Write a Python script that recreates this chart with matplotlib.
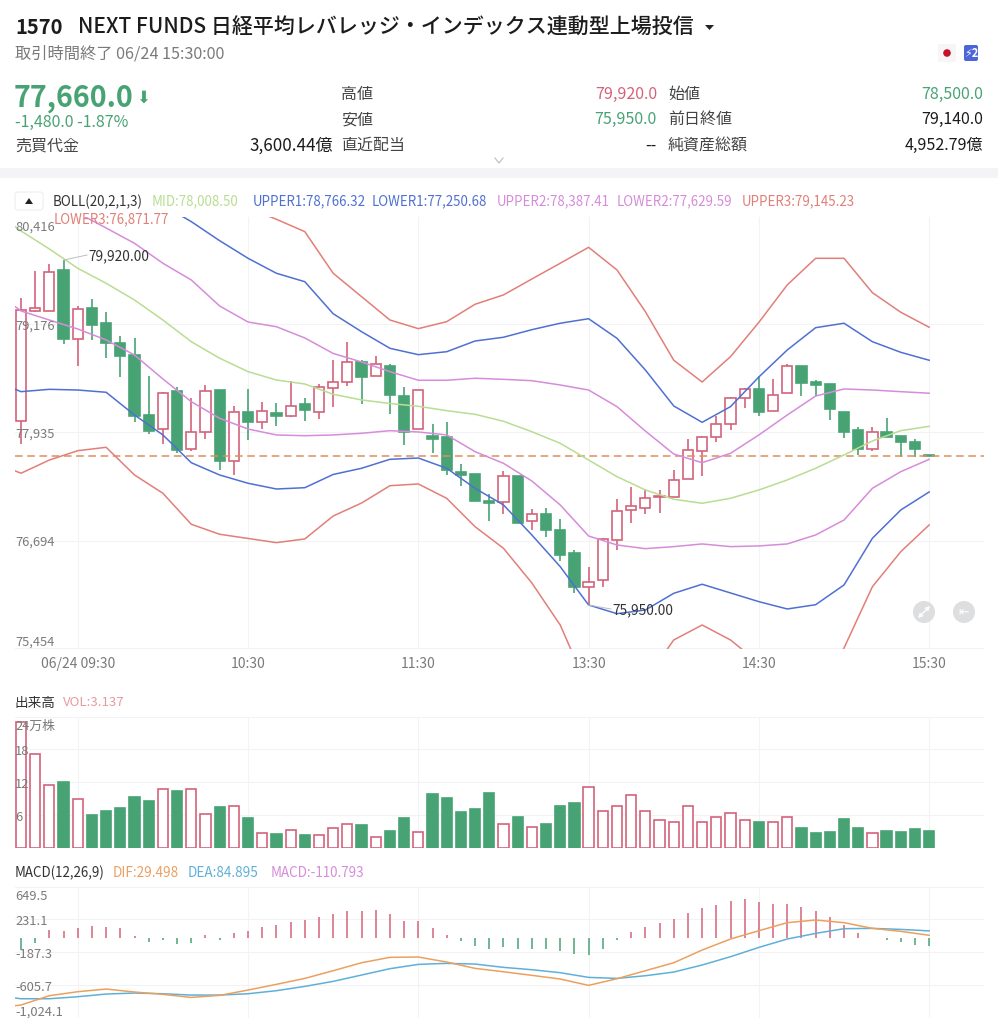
"""Candlestick panel with Bollinger bands, volume and MACD, plus the quote header."""
import numpy as np
import matplotlib; matplotlib.use("Agg")
import matplotlib.pyplot as plt
from matplotlib.patches import Rectangle, Circle, FancyBboxPatch, Polygon

plt.rcParams["font.family"] = ["Noto Sans CJK JP", "DejaVu Sans"]

W, H = 998, 1024
nan = float("nan")

# --- candles ---
opens = [78070,79330,79330,79800,79010,79360,79190,78960,78830,78140,77970,78410,77750,77940,78420,77610,78170,78060,78160,78130,78260,78170,78450,78520,78740,78580,78700,78350,77970,77890,77880,77480,77460,77150,77140,77440,76920,77000,76820,76550,76160,76240,76700,77040,77070,77190,77190,77400,77720,77880,78030,78330,78440,78180,78390,78700,78520,78490,78170,77960,77750,77940,77900,77830,77670]
closes = [79340,79360,79780,79010,79350,79170,78960,78810,78130,77950,78390,77730,77940,78410,77610,78170,78050,78180,78130,78240,78190,78460,78520,78740,78570,78720,78370,77940,78420,77860,77500,77450,77150,77120,77430,76900,77000,76820,76530,76160,76220,76710,77030,77090,77180,77200,77390,77730,77880,78030,78330,78440,78170,78370,78700,78500,78480,78200,77940,77740,77940,77880,77830,77750,77660]
highs = [79480,79790,79870,79920,79390,79470,79320,79040,79020,78580,78400,78460,78330,78480,78420,78240,78430,78290,78270,78530,78330,78490,78770,78970,78770,78810,78720,78460,78420,78030,78050,77570,77460,77230,77490,77440,77060,77070,76940,76590,76390,76720,77170,77310,77290,77270,77510,77860,77900,78120,78340,78450,78580,78550,78720,78700,78540,78490,78170,78000,78000,78100,77900,77860,77670]
lows = [77800,79320,79330,78950,78700,79000,78790,78570,78060,77920,77800,77700,77720,77860,77510,77450,77850,77980,78010,78110,78070,78090,78230,78470,78260,78580,78150,77790,77970,77700,77450,77320,77150,76920,77000,76900,76810,76730,76460,76090,75950,76160,76590,76890,77000,77010,77190,77400,77440,77830,77960,78220,78130,78180,78390,78350,78350,78080,77870,77680,77720,77880,77650,77650,77660]
last_price = 77660

# --- bollinger lines, read at every second candle (nan = off the top of the panel) ---
band_idx = [-0.4, 0] + list(range(2, 65, 2))
mid = [80299,80250,80043,79821,79649,79457,79227,78978,78788,78634,78538,78492,78374,78309,78268,78236,78186,78144,78064,77944,77811,77619,77428,77275,77168,77122,77179,77275,77390,77524,77677,77838,77956,78006]
upper1 = [nan,nan,nan,nan,nan,nan,80548,80357,80138,79936,79764,79667,79299,79093,78902,78829,78863,78986,79029,79116,79190,79242,79017,78653,78240,78052,78232,78573,78883,79139,79190,78978,78856,78765]
lower1 = [78431,78404,78431,78423,78397,78136,77907,77588,77447,77352,77286,77301,77453,77524,77627,77642,77524,77294,77103,76758,76394,75954,75854,75896,76088,76192,76092,75992,75908,75957,76184,76720,77045,77252]
upper2 = [nan,nan,nan,80456,80284,80108,79879,79687,79388,79204,79150,79021,78843,78745,78634,78535,78535,78558,78546,78530,78481,78423,78232,77952,77688,77588,77696,77907,78136,78354,78435,78423,78404,78386]
lower2 = [79380,79331,79227,79124,78998,78825,78550,78289,78098,77975,77907,77898,77907,77926,77956,77941,77907,77715,77581,77378,77103,76746,76643,76601,76624,76655,76624,76632,76655,76758,76930,77294,77485,77627]
upper3 = [nan,nan,nan,nan,nan,nan,nan,nan,nan,80514,80384,80242,79764,79495,79227,79128,79208,79408,79515,79698,79879,80062,79802,79323,78765,78515,78806,79201,79630,79936,79936,79541,79316,79144]
lower3 = [77493,77467,77619,77726,77765,77447,77237,76881,76766,76718,76670,76712,76976,77125,77324,77344,77179,76853,76605,76207,75724,74978,74863,75092,75552,75724,75552,75288,74978,74863,75460,76164,76566,76873]

# --- volume (万株) ---
volume = [23.1,17.2,11.5,12.0,8.9,5.9,6.8,7.2,9.2,8.5,10.7,10.3,10.7,6.2,7.5,7.6,5.5,2.7,2.5,3.2,2.4,2.3,3.7,4.3,4.2,1.9,3.1,5.5,2.8,9.8,9.1,6.5,7.0,10.1,4.4,5.7,3.8,4.3,7.6,8.2,11.1,6.8,7.7,9.7,6.8,5.1,4.8,7.6,4.8,5.7,6.4,5.0,4.7,4.8,5.6,3.6,2.7,2.9,5.3,3.6,2.7,3.1,2.8,3.5,3.1]

# --- macd ---
macd_hist = [-160,-68,90,78,125,147,134,117,19,-58,-32,-83,-75,28,-30,53,87,134,164,200,219,262,300,343,343,351,300,206,206,125,32,-40,-109,-143,-117,-147,-147,-151,-177,-215,-224,-143,-30,66,138,189,240,317,373,415,462,488,449,428,432,394,343,258,155,62,-10,-36,-62,-96,-111]
dif = [-871,-862,-743,-692,-658,-696,-726,-765,-739,-671,-598,-522,-424,-322,-253,-249,-313,-394,-437,-483,-530,-611,-526,-424,-322,-160,-19,87,190,224,190,117,79,29]
dea = [-773,-782,-782,-756,-722,-709,-718,-735,-735,-718,-679,-624,-560,-479,-398,-343,-330,-339,-381,-411,-449,-509,-522,-488,-441,-351,-245,-126,-19,53,113,117,104,85]

# --- ticks / labels ---
time_idx = [4, 16, 28, 40, 52, 64]
time_labels = ["06/24 09:30", "10:30", "11:30", "13:30", "14:30", "15:30"]
price_ticks = [80416, 79176, 77935, 76694, 75454]
vol_ticks = [24, 18, 12, 6, 0]
macd_ticks = [649.5, 231.1, -187.3, -605.7, -1024.1]
macd_labels = ["649.5", "231.1", "-187.3", "-605.7", "-1,024.1"]

RED, GREEN = "#D4637A", "#48A374"
C_MID, C_1, C_2, C_3 = "#B9DD92", "#4F70D3", "#D68CDA", "#E27F78"
C_DIF, C_DEA, C_MACD = "#EBA05F", "#5FB0D8", "#D68CDA"
GRID, GREY, DARK = "#F3F3F5", "#7A7A7A", "#1C1C1C"


def panel(top, bottom, ylim, yticks):
    a = fig.add_axes([15 / W, 1 - bottom / H, 969 / W, (bottom - top) / H])
    a.set_xlim((15 - 21) / 14.19, (984 - 21) / 14.19); a.set_ylim(*ylim)
    a.set_xticks(time_idx); a.set_yticks(yticks)
    a.tick_params(length=0, labelbottom=False, labelleft=False)
    a.grid(True, color=GRID, lw=0.8); a.set_axisbelow(True)
    for s in a.spines.values():
        s.set_visible(False)
    a.patch.set_alpha(0)
    return a


fig = plt.figure(figsize=(W / 100, H / 100), dpi=100, facecolor="white")
x = np.arange(len(closes))
up = np.array(closes) >= np.array(opens)
colors = [RED if u else GREEN for u in up]

# price panel
ax = panel(216.5, 648.5, (price_ticks[-1], price_ticks[0]), price_ticks)
ax.vlines(x, lows, highs, colors=colors, lw=1.2, zorder=2)
for i in x:
    lo, hi = min(opens[i], closes[i]), max(opens[i], closes[i])
    ax.add_patch(Rectangle((i - 0.36, lo), 0.72, max(hi - lo, 12), zorder=3, lw=1.2,
                           fc="white" if up[i] else GREEN, ec=colors[i]))
ax.axhline(last_price, color="#DD8F5C", lw=1.1, ls=(0, (5, 3)), zorder=4)
for vals, c in [(lower3, C_3), (upper3, C_3), (lower2, C_2), (upper2, C_2),
                (lower1, C_1), (upper1, C_1), (mid, C_MID)]:
    ax.plot(band_idx, vals, color=c, lw=1.1, zorder=5)

# volume panel
av = panel(716.7, 847.7, (0, 24), vol_ticks)
av.bar(x, volume, width=0.72, color=["white" if u else GREEN for u in up], edgecolor=colors, lw=1.2, zorder=3)

# macd panel
am = panel(886.7, 1017.7, (macd_ticks[-1], macd_ticks[0]), macd_ticks)
am.vlines(x, 0, macd_hist, colors=[RED if v > 0 else GREEN for v in macd_hist], lw=1.1, zorder=2)
am.plot(band_idx, dea, color=C_DEA, lw=1.1, zorder=3)
am.plot(band_idx, dif, color=C_DIF, lw=1.1, zorder=4)

# overlay in image pixels for header, legends and value labels
ov = fig.add_axes([0, 0, 1, 1], zorder=10); ov.set_xlim(0, W); ov.set_ylim(H, 0); ov.axis("off")


def t(px, py, s, size=10.5, color=DARK, ha="left", **kw):
    ov.text(px, py + 0.7, s, fontsize=size, color=color, ha=ha, va="center", **kw)


ov.add_patch(Rectangle((0, 168), W, 10, fc="#F4F4F6", ec="none", zorder=0))

t(15, 27, "1570", 14.5, weight="bold")
t(78, 27, "NEXT FUNDS 日経平均レバレッジ・インデックス連動型上場投信", 15.1, weight="medium")
ov.add_patch(Polygon([[705, 25], [714, 25], [709.5, 30]], fc="#222222", ec="none"))
t(15, 53, "取引時間終了 06/24 15:30:00", 11.7, GREY)
ov.add_patch(Rectangle((938, 44), 18, 18, fc="#F6F6F6", ec="none"))
ov.add_patch(Circle((947, 53), 3.8, fc="#C8102E", ec="none"))
ov.add_patch(FancyBboxPatch((964, 45), 14, 16, boxstyle="round,pad=0,rounding_size=2", fc="#4A66D8", ec="none"))
t(971, 53, "⚡2", 8, "white", ha="center", weight="bold")

t(14, 97, "77,660.0", 20.6, GREEN, weight="bold")
t(136, 97, "⬇", 12, GREEN, family=["DejaVu Sans"])
t(15, 122, "-1,480.0 -1.87%", 11.5, GREEN)
t(15, 145, "売買代金", 11.5, "#444444")
t(333, 145, "3,600.44億", 12.3, ha="right")
for px, py, s in [(341, 94, "高値"), (341, 119, "安値"), (341, 145, "直近配当"),
                  (668, 94, "始値"), (668, 119, "前日終値"), (668, 145, "純資産総額")]:
    t(px, py, s, 11.5, "#444444")
for px, py, s, c in [(657, 94, "79,920.0", RED), (657, 119, "75,950.0", GREEN), (657, 145, "--", DARK),
                     (983, 94, "78,500.0", GREEN), (983, 119, "79,140.0", DARK), (983, 145, "4,952.79億", DARK)]:
    t(px, py, s, 11.5, c, ha="right")
ov.plot([495, 499, 503], [158, 163, 158], color="#BBBBBB", lw=0.8)

# bollinger legend
ov.add_patch(FancyBboxPatch((15, 192), 28, 18, boxstyle="round,pad=0,rounding_size=3", fc="white", ec="#EEEEEE", lw=0.8))
ov.add_patch(Polygon([[25, 204], [33, 204], [29, 198]], fc="#222222", ec="none"))
for px, s, c in [(53, "BOLL(20,2,1,3)", "#333333"), (152, "MID:78,008.50", C_MID), (253, "UPPER1:78,766.32", C_1),
                 (372, "LOWER1:77,250.68", C_1), (497, "UPPER2:78,387.41", C_2), (617, "LOWER2:77,629.59", C_2),
                 (742, "UPPER3:79,145.23", C_3)]:
    t(px, 201, s, 9.6, c)
t(54, 219, "LOWER3:76,871.77", 9.6, C_3)

# axis labels sit inside the plot, nudged off their own gridlines
for s, py in zip(["80,416", "79,176", "77,935", "76,694", "75,454"], [226, 325, 433, 541, 641]):
    t(15, py, s, 9.3, GREY)
for s, i in zip(time_labels, time_idx):
    t(21 + 14.19 * i, 663, s, 10, GREY, ha="center")
t(15, 726, "24万株", 9.3, GREY)
for s, py in zip(["18", "12", "6"], [751, 784, 817]):
    t(15, py, s, 9.3, GREY)
for s, py in zip(macd_labels, [896, 921, 954, 987, 1011]):
    t(15, py, s, 9.3, GREY)

# high / low callouts
ov.plot([64, 87], [260, 255], color="#BDBDBD", lw=0.7)
t(88, 256, "79,920.00", 9.9, "#333333")
ov.plot([588, 611], [605, 609], color="#BDBDBD", lw=0.7)
t(612, 610, "75,950.00", 9.9, "#333333")

# chart buttons: no installed font has the expand arrow, so it is drawn
ov.add_patch(Circle((924, 612), 11, fc="#DDDEE0", ec="none"))
ov.annotate("", xy=(930, 606), xytext=(918, 618), arrowprops=dict(arrowstyle="<->", color="white", lw=1, mutation_scale=6, shrinkA=0, shrinkB=0))
ov.add_patch(Circle((964, 612), 11, fc="#DDDEE0", ec="none"))
t(964, 611.3, "⇤", 9, "white", ha="center", family=["DejaVu Sans"])

t(15, 702, "出来高", 9.8, "#333333")
t(63, 702, "VOL:3.137", 9.5, "#E59AA0")
t(15, 872, "MACD(12,26,9)", 9.6, "#333333")
t(113, 872, "DIF:29.498", 9.8, C_DIF)
t(188, 872, "DEA:84.895", 9.8, C_DEA)
t(271, 872, "MACD:-110.793", 9.7, C_MACD)

fig.savefig("out.png", dpi=100)
